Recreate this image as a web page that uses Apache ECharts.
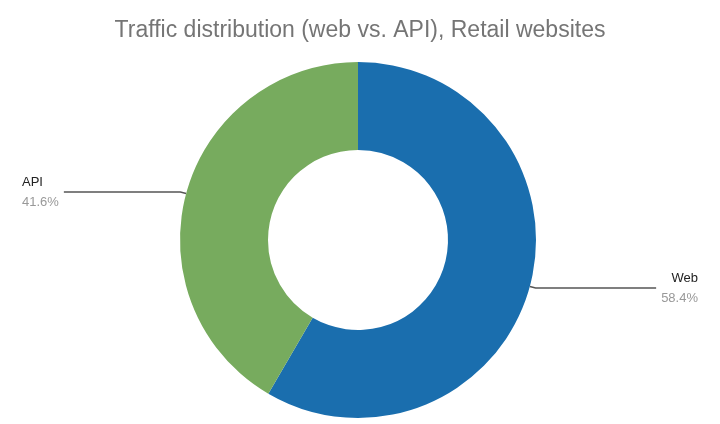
<!DOCTYPE html>
<html><head><meta charset="utf-8">
<script src="https://cdn.jsdelivr.net/npm/echarts@6/dist/echarts.min.js"></script>
<style>html,body{margin:0;background:#fff}#c{width:720px;height:424px}</style>
</head><body><div id="c"></div>
<script>
const titleText = "Traffic distribution (web vs. API), Retail websites";
const categories = ["Web", "API"];
const values = [58.4, 41.6];
const colors = ["#1a6eae", "#77ab5e"];
const chart = echarts.init(document.getElementById('c'));
chart.setOption({
  animation: false,
  title: {text: titleText, left: 'center', top: 14,
    textStyle: {fontFamily: 'Liberation Sans, Arial', fontSize: 23, fontWeight: 'normal', color: '#757575'}},
  series: [{
    type: 'pie', center: [358, 240], radius: [90, 178], startAngle: 90, clockwise: true,
    percentPrecision: 1,
    data: categories.map((n, i) => ({name: n, value: values[i], itemStyle: {color: colors[i]}})),
    itemStyle: {borderColor: '#fff', borderWidth: 0},
    label: {
      alignTo: 'edge', edgeDistance: 22,
      formatter: '{n|{b}}\n{p|{d}%}',
      rich: {
        n: {fontFamily: 'Liberation Sans, Arial', fontSize: 13, color: '#222', lineHeight: 20},
        p: {fontFamily: 'Liberation Sans, Arial', fontSize: 13, color: '#999', lineHeight: 20}
      }
    },
    labelLine: {show: true, length: 6, length2: 10, lineStyle: {color: '#555', width: 1.5}}
  }]
});
</script></body></html>
